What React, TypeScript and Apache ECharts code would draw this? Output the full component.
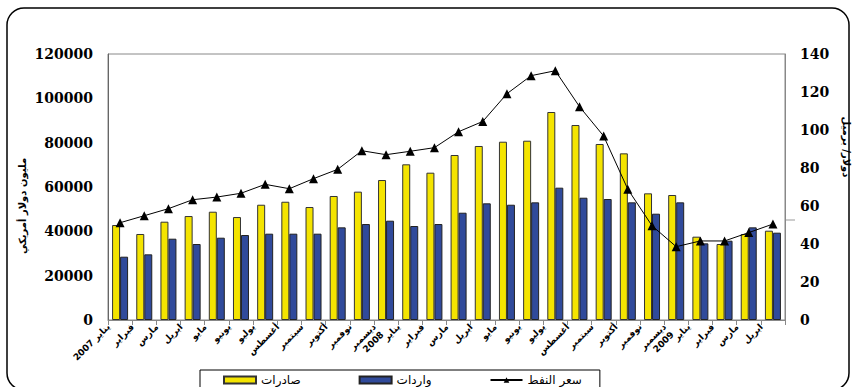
import React, { useEffect, useRef } from "react";
import * as echarts from "echarts";

const categories = [
  "يناير 2007", "فبراير", "مارس", "ابريل", "مايو", "يونيو", "يوليو", "أغسطس", "سبتمبر", "أكتوبر", "نوفمبر", "ديسمبر\n2008",
  "يناير", "فبراير", "مارس", "ابريل", "مايو", "يونيو", "يوليو", "أغسطس", "سبتمبر", "أكتوبر", "نوفمبر", "ديسمبر\n2009",
  "يناير", "فبراير", "مارس", "ابريل",
];

const exportsValues = [
  42850, 38800, 44350, 46900, 48850, 46450, 52000, 53350, 50970, 55940, 57900, 63150,
  70230, 66450, 74430, 78500, 80430, 80880, 93830, 87960, 79400, 75180, 57140, 56390,
  37590, 34280, 38800, 40290,
];

const importsValues = [
  28560, 29620, 36680, 34280, 37130, 38340, 38940, 38940, 38940, 41800, 43300, 44800,
  42400, 43300, 48400, 52640, 52000, 53080, 59690, 55170, 54580, 53080, 47960, 53080,
  34580, 35780, 41800, 39390,
];

const oilPrice = [
  51.2, 54.9, 58.6, 63.3, 64.7, 66.7, 71.4, 69.1, 74.4, 79.3, 89.1, 87.0,
  88.8, 90.7, 99.1, 104.5, 119.1, 128.6, 131.2, 112.3, 96.8, 68.8, 49.6, 38.6,
  41.6, 41.6, 46.0, 50.5,
];

const seriesNames = ["صادرات", "واردات", "سعر النفط"];
const leftAxisName = "مليون دولار أمريكي";
const rightAxisName = "دولار/ برميل";

export default function App() {
  const ref = useRef<HTMLDivElement>(null);
  useEffect(() => {
    if (!ref.current) return;
    const chart = echarts.init(ref.current, undefined, { renderer: "svg" });
    const numFont = { fontFamily: "DejaVu Serif", fontWeight: "bold" as const, fontSize: 14, color: "#000" };
    const xData = categories.map((c) =>
      c.indexOf("\n") >= 0
        ? { value: c, textStyle: { verticalAlign: "bottom", align: "right", padding: [0, 0, 0, 0] } }
        : c
    );
    chart.setOption({
      animation: false,
      backgroundColor: "#fff",
      grid: { left: 108, right: 67, top: 54, bottom: 67, show: true, borderColor: "#888", borderWidth: 1 },
      legend: {
        data: [
          { name: seriesNames[0], icon: "rect" },
          { name: seriesNames[1], icon: "rect" },
          { name: seriesNames[2] },
        ],
        left: 200,
        top: 370,
        itemWidth: 32,
        itemHeight: 7,
        itemGap: 58,
        padding: [3, 18, 5, 23],
        borderColor: "#000",
        borderWidth: 1,
        textStyle: { fontFamily: "DejaVu Sans", fontSize: 12, color: "#000", lineHeight: 14 },
      },
      xAxis: {
        type: "category",
        data: xData,
        axisLine: { lineStyle: { color: "#888" } },
        axisTick: { show: true, length: 5, lineStyle: { color: "#888" } },
        axisLabel: {
          interval: 0,
          rotate: 45,
          margin: 17,
          verticalAlign: "bottom",
          padding: [0, 0, 11, 0],
          fontFamily: "DejaVu Sans",
          fontSize: 9,
          fontWeight: "bold",
          color: "#000",
          lineHeight: 11,
        },
      },
      yAxis: [
        {
          type: "value",
          min: 0,
          max: 120000,
          interval: 20000,
          splitLine: { show: false },
          axisLine: { show: true, lineStyle: { color: "#666" } },
          axisTick: { show: false },
          axisLabel: { ...numFont, margin: 15, formatter: (v: number) => String(v) },
        },
        {
          type: "value",
          min: 0,
          max: 140,
          interval: 20,
          splitLine: { show: false },
          axisLine: { show: true, lineStyle: { color: "#888" } },
          axisTick: { show: false },
          axisLabel: { ...numFont, margin: 15, formatter: (v: number) => String(v) },
        },
      ],
      series: [
        {
          name: seriesNames[0],
          type: "bar",
          data: exportsValues,
          barWidth: 8,
          barGap: "0%",
          itemStyle: { color: "#F4E400", borderColor: "#333", borderWidth: 1 },
        },
        {
          name: seriesNames[1],
          type: "bar",
          data: importsValues,
          barWidth: 8,
          barGap: "0%",
          itemStyle: { color: "#304A9B", borderColor: "#222", borderWidth: 1 },
        },
        {
          name: seriesNames[2],
          type: "line",
          yAxisIndex: 1,
          data: oilPrice,
          symbol: "triangle",
          symbolSize: 9,
          itemStyle: { color: "#000" },
          lineStyle: { color: "#000", width: 1 },
          z: 5,
        },
      ],
      graphic: [
        {
          type: "rect",
          shape: { x: 7, y: 8, width: 842, height: 382, r: 17 },
          style: { fill: "none", stroke: "#000", lineWidth: 1.5 },
          z: -1,
        },
        {
          type: "text",
          x: 22,
          y: 206,
          rotation: Math.PI / 2,
          style: {
            text: leftAxisName,
            fontFamily: "DejaVu Sans",
            fontSize: 10,
            fontWeight: "bold",
            fill: "#000",
            textAlign: "center",
            textVerticalAlign: "middle",
          },
        },
        {
          type: "text",
          x: 846,
          y: 147,
          rotation: -Math.PI / 2,
          style: {
            text: rightAxisName,
            fontFamily: "DejaVu Sans",
            fontSize: 10,
            fontWeight: "bold",
            fill: "#000",
            textAlign: "center",
            textVerticalAlign: "middle",
          },
        },
        {
          type: "line",
          shape: { x1: 785, y1: 220, x2: 795, y2: 220 },
          style: { stroke: "#999", lineWidth: 1 },
        },
      ],
    });
    return () => chart.dispose();
  }, []);
  return (
    <div
      ref={ref}
      style={{ position: "fixed", left: 0, top: 0, width: 852, height: 387 }}
    />
  );
}
